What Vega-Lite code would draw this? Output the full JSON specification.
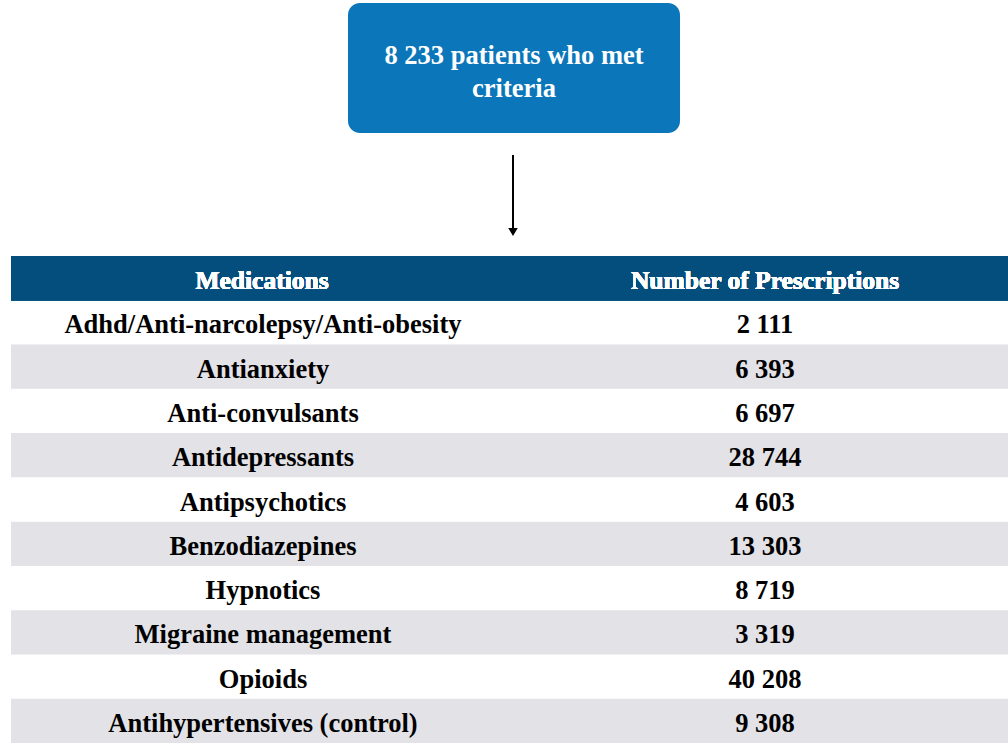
{
  "$schema": "https://vega.github.io/schema/vega-lite/v6.json",
  "padding": 0,
  "spacing": 0,
  "background": "white",
  "config": {
    "view": {"stroke": null},
    "axis": {"disable": true},
    "font": "Liberation Serif",
    "locale": {"number": {"decimal": ".", "thousands": " ", "grouping": [3], "currency": ["", ""]}}
  },
  "vconcat": [
    {
      "width": 1008,
      "height": 256,
      "data": {"values": [{"label": ["8 233 patients who met", "criteria"]}]},
      "layer": [
        {
          "mark": {"type": "rect", "fill": "#0B76B9", "cornerRadius": 12},
          "encoding": {
            "x": {"datum": 348, "type": "quantitative", "scale": {"domain": [0, 1008], "nice": false, "zero": false}},
            "x2": {"datum": 680},
            "y": {"datum": 3, "type": "quantitative", "scale": {"domain": [0, 256], "nice": false, "zero": false, "reverse": true}},
            "y2": {"datum": 133}
          }
        },
        {
          "mark": {"type": "text", "color": "white", "fontWeight": "bold", "fontSize": 26.5, "lineHeight": 33, "align": "center", "baseline": "middle", "dy": 2},
          "encoding": {
            "x": {"datum": 514, "type": "quantitative"},
            "y": {"datum": 54, "type": "quantitative"},
            "text": {"field": "label"}
          }
        },
        {
          "mark": {"type": "rule", "color": "black", "strokeWidth": 2},
          "encoding": {
            "x": {"datum": 513, "type": "quantitative"},
            "y": {"datum": 155, "type": "quantitative"},
            "y2": {"datum": 229}
          }
        },
        {
          "mark": {"type": "point", "shape": "triangle-down", "filled": true, "color": "black", "size": 90, "opacity": 1},
          "encoding": {
            "x": {"datum": 513, "type": "quantitative"},
            "y": {"datum": 232, "type": "quantitative"}
          }
        }
      ]
    },
    {
      "width": 1008,
      "height": 487,
      "data": {"values": [
        {"row": 1, "medication": "Adhd/Anti-narcolepsy/Anti-obesity", "prescriptions": 2111},
        {"row": 2, "medication": "Antianxiety", "prescriptions": 6393},
        {"row": 3, "medication": "Anti-convulsants", "prescriptions": 6697},
        {"row": 4, "medication": "Antidepressants", "prescriptions": 28744},
        {"row": 5, "medication": "Antipsychotics", "prescriptions": 4603},
        {"row": 6, "medication": "Benzodiazepines", "prescriptions": 13303},
        {"row": 7, "medication": "Hypnotics", "prescriptions": 8719},
        {"row": 8, "medication": "Migraine management", "prescriptions": 3319},
        {"row": 9, "medication": "Opioids", "prescriptions": 40208},
        {"row": 10, "medication": "Antihypertensives (control)", "prescriptions": 9308}
      ]},
      "encoding": {
        "y": {
          "field": "medication",
          "type": "nominal",
          "sort": null,
          "scale": {
            "domain": ["Medications", "Adhd/Anti-narcolepsy/Anti-obesity", "Antianxiety", "Anti-convulsants", "Antidepressants", "Antipsychotics", "Benzodiazepines", "Hypnotics", "Migraine management", "Opioids", "Antihypertensives (control)"],
            "paddingInner": 0,
            "paddingOuter": 0
          }
        }
      },
      "layer": [
        {
          "mark": {"type": "rect", "fill": "#034E7D"},
          "encoding": {
            "y": {"datum": "Medications", "type": "nominal"},
            "x": {"datum": 11, "type": "quantitative", "scale": {"domain": [0, 1008], "nice": false, "zero": false}},
            "x2": {"datum": 1008}
          }
        },
        {
          "transform": [{"filter": "datum.row % 2 == 0"}],
          "mark": {"type": "rect", "fill": "#E2E2E7"},
          "encoding": {
            "x": {"datum": 11, "type": "quantitative"},
            "x2": {"datum": 1008}
          }
        },
        {
          "mark": {"type": "text", "color": "white", "fontWeight": "bold", "fontSize": 25.5, "align": "center", "baseline": "middle", "dy": 3},
          "encoding": {
            "y": {"datum": "Medications", "type": "nominal"},
            "x": {"datum": 262, "type": "quantitative"},
            "text": {"value": "Medications"}
          }
        },
        {
          "mark": {"type": "text", "color": "white", "fontWeight": "bold", "fontSize": 25.5, "align": "center", "baseline": "middle", "dy": 3},
          "encoding": {
            "y": {"datum": "Medications", "type": "nominal"},
            "x": {"datum": 765, "type": "quantitative"},
            "text": {"value": "Number of Prescriptions"}
          }
        },
        {
          "mark": {"type": "text", "color": "black", "fontWeight": "bold", "fontSize": 26.5, "align": "center", "baseline": "middle", "dy": 3},
          "encoding": {
            "x": {"datum": 263, "type": "quantitative"},
            "text": {"field": "medication"}
          }
        },
        {
          "mark": {"type": "text", "color": "black", "fontWeight": "bold", "fontSize": 26.5, "align": "center", "baseline": "middle", "dy": 3},
          "encoding": {
            "x": {"datum": 765, "type": "quantitative"},
            "text": {"field": "prescriptions", "type": "quantitative", "format": ",d"}
          }
        }
      ]
    }
  ]
}
